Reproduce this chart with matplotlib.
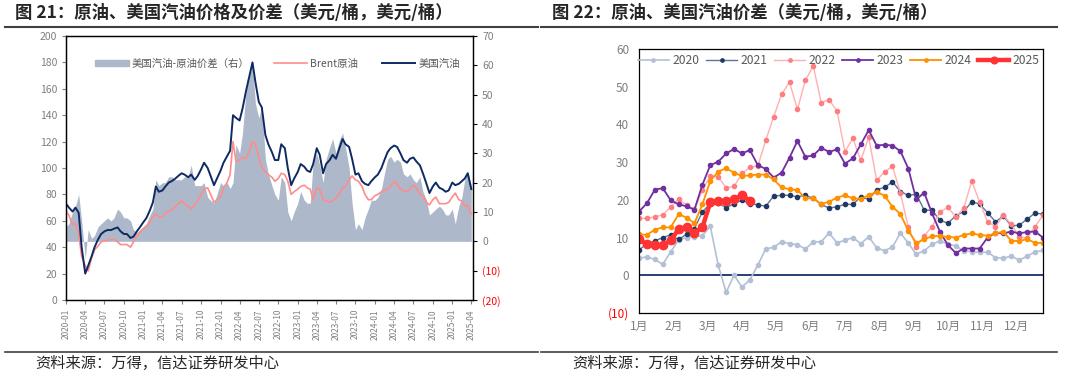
import numpy as np
import pandas as pd
import matplotlib
matplotlib.use('Agg')
import matplotlib.pyplot as plt
import matplotlib.dates as mdates
from matplotlib.lines import Line2D
from matplotlib.patches import Patch

plt.rcParams['font.family'] = ['Noto Sans CJK SC', 'DejaVu Sans']
plt.rcParams['axes.unicode_minus'] = False

# ---- left chart data: semi-monthly readings, 2020-01 .. 2025-04 ----
dates = pd.date_range('2020-01-01', '2025-04-01', freq='SMS')

gasoline = [
    73, 70, 67, 70, 66, 40, 20, 26, 33, 40, 46, 50, 52, 53, 53, 54, 55, 52, 50, 50, 47, 48, 52, 55,
    59, 62, 68, 74, 86, 82, 83, 86, 89, 90, 92, 94, 96, 95, 93, 95, 91, 94, 99, 104, 100, 94, 87, 92,
    98, 104, 109, 113, 140, 138, 136, 145, 158, 168, 180, 165, 150, 146, 125, 118, 112, 106, 106, 118, 115, 100, 87, 92,
    97, 103, 101, 98, 97, 103, 115, 110, 96, 103, 106, 110, 107, 114, 122, 118, 116, 107, 95, 96, 90, 88, 87, 90,
    93, 95, 100, 106, 112, 115, 117, 116, 111, 106, 104, 107, 108, 105, 102, 96, 88, 81, 86, 89, 85, 84, 82, 83,
    89, 87, 88, 90, 92, 96, 84,
]
brent = [
    68, 64, 57, 58, 50, 33, 26, 22, 32, 38, 41, 44, 45, 45, 46, 46, 44, 42, 42, 42, 40, 44, 49, 51,
    54, 56, 59, 63, 65, 63, 63, 66, 67, 68, 71, 73, 75, 73, 71, 69, 72, 75, 80, 84, 85, 80, 74, 76,
    78, 85, 89, 95, 120, 105, 106, 108, 107, 112, 120, 118, 108, 100, 97, 95, 93, 90, 92, 96, 95, 90, 80, 82,
    84, 86, 87, 85, 84, 76, 85, 84, 76, 75, 74, 75, 77, 80, 85, 86, 91, 94, 91, 90, 86, 80, 76, 76,
    79, 80, 82, 83, 84, 86, 90, 88, 84, 83, 82, 84, 87, 85, 80, 79, 74, 72, 76, 78, 73, 73, 73, 74,
    78, 81, 76, 75, 71, 72, 65,
]
spread = np.array(gasoline) - np.array(brent)

# ---- right chart data: weekly spread by year ----
months = ['1月', '2月', '3月', '4月', '5月', '6月', '7月', '8月', '9月', '10月', '11月', '12月']
y2020 = [4.5, 4.9, 4.2, 2.9, 6.2, 9.4, 10.0, 10.2, 10.5, 13.0, 2.7, -4.5, 0.0, -3.1, -1.2, 2.7,
         7.0, 7.4, 8.9, 8.4, 8.1, 7.0, 8.8, 8.9, 11.2, 8.6, 9.3, 10.0, 8.4, 10.2, 7.3, 6.5,
         7.5, 11.2, 8.5, 5.6, 6.5, 8.2, 9.1, 8.2, 7.8, 6.4, 6.3, 6.1, 6.1, 4.7, 4.5, 5.1,
         4.0, 5.1, 6.2, 6.6]
y2021 = [6.7, 8.4, 9.1, 10.0, 10.7, 9.5, 10.9, 12.4, 16.8, 19.0, 19.2, 17.9, 19.0, 19.9, 19.0, 18.7,
         18.3, 21.0, 21.2, 21.2, 20.8, 21.2, 20.4, 18.8, 17.8, 18.2, 18.8, 18.8, 20.8, 20.1, 22.7, 23.3,
         24.8, 22.2, 21.2, 21.5, 17.3, 17.2, 14.6, 13.8, 15.8, 16.9, 19.5, 18.9, 16.6, 14.2, 15.7, 13.1,
         13.3, 14.9, 16.5, 16.2]
y2022 = [15.1, 15.1, 15.5, 16.0, 18.1, 20.2, 18.6, 17.5, 22.5, 26.4, 26.1, 23.2, 23.6, 27.0, 28.6, 29.0,
         35.8, 42.0, 48.0, 51.2, 44.0, 51.7, 55.5, 45.8, 46.5, 43.6, 32.8, 36.3, 30.5, 36.6, 25.2, 27.4,
         28.9, 21.8, 12.8, 7.5, 10.5, 12.9, 16.8, 18.0, 15.5, 17.8, 25.0, 19.4, 14.2, 12.9, 15.9, 13.5,
         10.2, 9.8, 12.9, 15.9]
y2023 = [16.9, 19.1, 22.7, 23.1, 19.9, 18.8, 18.3, 17.4, 24.0, 29.2, 30.1, 32.3, 33.5, 32.3, 33.2, 29.2,
         28.2, 25.9, 27.2, 31.2, 35.6, 31.4, 31.8, 33.8, 32.7, 33.4, 29.6, 31.0, 34.7, 38.5, 34.4, 34.6,
         34.4, 32.9, 28.3, 20.1, 21.9, 16.4, 11.5, 8.0, 5.9, 7.1, 7.1, 7.1, 10.0, 11.3, 11.1, 11.6,
         11.1, 11.5, 11.6, 10.0]
y2024 = [10.9, 10.7, 12.1, 12.7, 12.7, 16.2, 15.3, 13.8, 18.8, 25.0, 27.5, 28.4, 27.2, 26.3, 26.5, 26.7,
         26.7, 25.4, 23.3, 22.8, 22.6, 20.4, 20.4, 18.9, 19.5, 20.6, 21.2, 20.4, 20.3, 21.2, 22.1, 21.1,
         18.2, 16.2, 11.8, 8.6, 9.5, 10.4, 10.4, 10.2, 10.0, 10.7, 11.1, 10.7, 10.5, 11.1, 11.6, 9.1,
         9.1, 9.6, 8.6, 8.6]
y2025 = [9.5, 8.2, 7.9, 7.9, 9.3, 12.2, 12.8, 11.3, 12.7, 19.3, 19.6, 19.7, 20.2, 21.2, 19.8]

gray_txt = '#7F7F7F'
fig = plt.figure(figsize=(10.74, 3.76), dpi=100)

# titles, rules and sources
fig.text(15 / 1074, 1 - 13 / 376, '图 21：原油、美国汽油价格及价差（美元/桶，美元/桶）',
         fontsize=12.5, fontweight='bold', color='#262626', va='center')
fig.text(552 / 1074, 1 - 13 / 376, '图 22：原油、美国汽油价差（美元/桶，美元/桶）',
         fontsize=12.5, fontweight='bold', color='#262626', va='center')
for x0, x1 in [(5, 538), (541, 1057)]:
    fig.add_artist(Line2D([x0 / 1074, x1 / 1074], [1 - 27 / 376] * 2, color='#404040', lw=1.5))
    fig.add_artist(Line2D([x0 / 1074, x1 / 1074], [1 - 352 / 376] * 2, color='#404040', lw=1.2))
fig.text(35 / 1074, 1 - 363 / 376, '资料来源：万得，信达证券研发中心', fontsize=11,
         style='italic', color='#262626', va='center')
fig.text(572 / 1074, 1 - 363 / 376, '资料来源：万得，信达证券研发中心', fontsize=11,
         style='italic', color='#262626', va='center')

# ---- left chart ----
ax = fig.add_axes([66 / 1074, 1 - 300 / 376, 407 / 1074, 264 / 376])
ax2 = ax.twinx()
ax2.fill_between(dates, spread, 0, color='#ADB9CA', lw=0)
ax2.set_ylim(-20, 70)
ax2.set_yticks(range(-20, 71, 10))
ax2.set_yticklabels(['(20)', '(10)'] + [str(v) for v in range(0, 71, 10)])
for lbl in ax2.get_yticklabels():
    lbl.set_color('#FF0000' if lbl.get_text().startswith('(') else gray_txt)
ax2.tick_params(axis='y', labelsize=7.5, length=3)

ax.set_zorder(ax2.get_zorder() + 1)
ax.patch.set_visible(False)
ax.plot(dates, brent, color='#FF8C8C', lw=1.2)
ax.plot(dates, gasoline, color='#0F2A63', lw=1.4)
ax.set_ylim(0, 200)
ax.set_yticks(range(0, 201, 20))
ax.set_xlim(pd.Timestamp('2020-01-01'), pd.Timestamp('2025-04-09'))
ax.xaxis.set_major_locator(mdates.MonthLocator(bymonth=[1, 4, 7, 10]))
ax.xaxis.set_major_formatter(mdates.DateFormatter('%Y-%m'))
ax.tick_params(axis='x', labelsize=6, rotation=90, colors=gray_txt, length=3)
ax.tick_params(axis='y', labelsize=7.5, colors=gray_txt, length=3)
for a in (ax, ax2):
    for s in a.spines.values():
        s.set_color('black')
        s.set_linewidth(0.9)

handles = [Patch(color='#ADB9CA'), Line2D([], [], color='#FF8C8C', lw=1.2),
           Line2D([], [], color='#0F2A63', lw=1.4)]
ax.legend(handles, ['美国汽油-原油价差（右）', 'Brent原油', '美国汽油'], loc='center',
          bbox_to_anchor=(0.52, 0.895), ncol=3, frameon=False, fontsize=7.5,
          labelcolor='#595959', handlelength=3.2, handleheight=0.5, columnspacing=2.3,
          handletextpad=0.3)

# ---- right chart ----
bx = fig.add_axes([639 / 1074, 1 - 313 / 376, 404 / 1074, 264 / 376])
weeks = np.arange(52)
styles = [
    ('2020', y2020, '#B4C0D6', '#B4C0D6', 1.2, 3),
    ('2021', y2021, '#5E7599', '#1F3864', 1.0, 3),
    ('2022', y2022, '#FFB0B0', '#FF7C80', 1.0, 3),
    ('2023', y2023, '#7030A0', '#7030A0', 1.3, 3),
    ('2024', y2024, '#FF9000', '#FF9000', 1.3, 3),
    ('2025', y2025, '#FF3333', '#FF3333', 3.2, 6),
]
bx.axhline(0, color='#002060', lw=1.2)
for name, vals, lc, mc, lw, ms in styles:
    bx.plot(weeks[:len(vals)], vals, color=lc, lw=lw, marker='o', ms=ms,
            mfc=mc, mec=mc, label=name)
bx.set_xlim(0, 51)
bx.set_ylim(-10, 60)
bx.set_yticks(range(-10, 61, 10))
bx.set_yticklabels(['(10)'] + [str(v) for v in range(0, 61, 10)])
bx.get_yticklabels()[0].set_color('#FF0000')
for lbl in bx.get_yticklabels()[1:]:
    lbl.set_color(gray_txt)
bx.set_xticks([i * 52 / 12 for i in range(12)])
bx.set_xticklabels(months)
bx.tick_params(axis='x', labelsize=8.5, colors=gray_txt, length=0, pad=5)
bx.tick_params(axis='y', labelsize=8.5, length=0, pad=7)
for s in bx.spines.values():
    s.set_color('black')
    s.set_linewidth(0.9)
bx.legend(loc='center left', bbox_to_anchor=(-0.03, 0.955), ncol=6, frameon=False,
          fontsize=8.7, labelcolor='#595959', handlelength=2.6, columnspacing=0.5,
          handletextpad=0.3, markerscale=0.8)

fig.savefig('out.png', dpi=100)
